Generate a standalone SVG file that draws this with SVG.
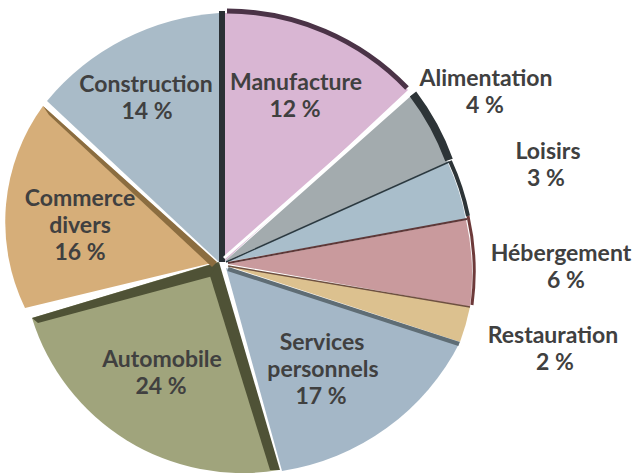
<svg xmlns="http://www.w3.org/2000/svg" width="634" height="473" viewBox="0 0 634 473">
  <style>
    .lbl { font-family: Lato, "Open Sans", "DejaVu Sans", sans-serif; font-weight: bold; font-size: 23px; fill: #404040; text-anchor: middle; }
    .rim { fill: none; stroke-linecap: butt; }
  </style>
  <rect width="634" height="473" fill="#ffffff"/>

  <g id="construction">
    <path d="M219 262 L47 101 A245 245 0 0 1 219 13 Z" fill="#a9bbc8"/>
    <text class="lbl" x="146" y="92">Construction</text>
    <text class="lbl" x="147" y="119">14 %</text>
  </g>

  <g id="manufacture">
    <path d="M224 262 L225 13 A250 250 0 0 1 408 90 Z" fill="#d9b6d3"/>
    <path class="rim" d="M227 11 A251 251 0 0 1 407 88" stroke="#4b3347" stroke-width="5"/>
    <text class="lbl" x="296" y="90">Manufacture</text>
    <text class="lbl" x="295" y="117">12 %</text>
  </g>

  <g id="alimentation">
    <path d="M224 262 L412 95 A250 250 0 0 1 448 163 Z" fill="#a3abae"/>
    <path class="rim" d="M413 94 A254 254 0 0 1 449 160" stroke="#2d3437" stroke-width="8"/>
    <text class="lbl" x="486" y="86">Alimentation</text>
    <text class="lbl" x="485" y="113">4 %</text>
  </g>

  <g id="loisirs">
    <path d="M226 262 L448 163 A248 248 0 0 1 466 220 Z" fill="#a9becb"/>
    <path class="rim" d="M450 161 A252 252 0 0 1 468 216" stroke="#2d3437" stroke-width="4"/>
    <text class="lbl" x="548" y="159">Loisirs</text>
    <text class="lbl" x="546" y="186">3 %</text>
  </g>

  <g id="hebergement">
    <path d="M228 264 L466 220 A250 250 0 0 1 470 307 Z" fill="#c99a9d"/>
    <path class="rim" d="M468 216 A252 252 0 0 1 472 305" stroke="#6d3a3a" stroke-width="3"/>
    <text class="lbl" x="561" y="261">Hébergement</text>
    <text class="lbl" x="566" y="288">6 %</text>
  </g>

  <g id="restauration">
    <path d="M228 266 L470 307 A250 250 0 0 1 460 342 Z" fill="#dcc18f"/>
    <text class="lbl" x="553" y="343">Restauration</text>
    <text class="lbl" x="555" y="370">2 %</text>
  </g>

  <g id="services-personnels">
    <path d="M226 268 L460 342 A240 240 0 0 1 282 471 Z" fill="#a4b7c7"/>
    <text class="lbl" x="322" y="350">Services</text>
    <text class="lbl" x="323" y="377">personnels</text>
    <text class="lbl" x="321" y="404">17 %</text>
  </g>

  <g id="automobile">
    <path d="M218 262 L279 470 A220 220 0 0 1 32 318 Z" fill="#a0a47c"/>
    <path d="M32 318 L219 262 L213 276 L38 323 Z" fill="#4f5236"/>
    <path d="M219 262 L280 470 L270 470 L210 276 Z" fill="#4f5236"/>
    <text class="lbl" x="162" y="367">Automobile</text>
    <text class="lbl" x="161" y="394">24 %</text>
  </g>

  <g id="commerce-divers">
    <path d="M216 262 L25 308 A197 197 0 0 1 43 106 Z" fill="#d6ae79"/>
    <path d="M43 106 L217 262 L212 267 L49 115 Z" fill="#8b6d40"/>
    <text class="lbl" x="80" y="206">Commerce</text>
    <text class="lbl" x="80" y="233">divers</text>
    <text class="lbl" x="80" y="260">16 %</text>
  </g>

  <g id="connectors">
    <line x1="222" y1="262" x2="222" y2="11" stroke="#2a3035" stroke-width="6"/>
    <line x1="224" y1="258" x2="412" y2="92" stroke="#ffffff" stroke-width="3"/>
    <line x1="226" y1="262" x2="449" y2="162" stroke="#2b3940" stroke-width="1.5"/>
    <line x1="228" y1="263" x2="467" y2="219" stroke="#5e3838" stroke-width="2"/>
    <line x1="228" y1="266" x2="470" y2="307" stroke="#6e5040" stroke-width="1.5"/>
    <line x1="228" y1="269" x2="459" y2="344" stroke="#5f6d75" stroke-width="4"/>
  </g>
</svg>
